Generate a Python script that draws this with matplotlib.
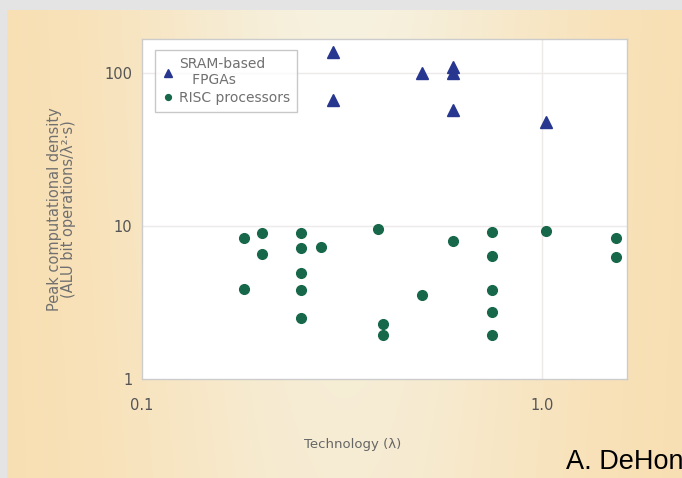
import matplotlib
matplotlib.use("Agg")
import matplotlib.pyplot as plt
import numpy as np

# data
fpga_tech = [0.30, 0.30, 0.50, 0.60, 0.60, 0.60, 1.02]
fpga_density = [137, 67, 100, 109, 100, 57, 48]

risc_tech = [0.18, 0.18, 0.20, 0.20,
             0.25, 0.25, 0.25, 0.25, 0.25,
             0.28, 0.39, 0.40, 0.40, 0.50, 0.60,
             0.75, 0.75, 0.75, 0.75, 0.75,
             1.02, 1.53, 1.53]
risc_density = [8.4, 3.9, 9.0, 6.6,
                9.0, 7.2, 4.9, 3.8, 2.5,
                7.3, 9.6, 2.3, 1.95, 3.55, 8.0,
                9.2, 6.4, 3.8, 2.75, 1.95,
                9.3, 8.4, 6.3]

fig = plt.figure(figsize=(6.82, 4.78), dpi=100)
fig.patch.set_facecolor("#e4e4e4")

# warm beige background panel
bg = fig.add_axes([7 / 682, 0, 1 - 7 / 682, 1 - 10 / 478])
xx = np.linspace(0, 1, 300)
yy = np.linspace(0, 1, 200)
X, Y = np.meshgrid(xx, yy)
w = np.exp(-((X - 0.5) / 0.32) ** 2) * (0.75 + 0.25 * Y)
edge = np.array([0.975, 0.87, 0.69])
center = np.array([0.965, 0.945, 0.875])
img = edge[None, None, :] * (1 - w[..., None]) + center[None, None, :] * w[..., None]
bg.imshow(img, aspect="auto", extent=[0, 1, 0, 1], origin="lower")
bg.axis("off")

ax = fig.add_axes([142 / 682, 1 - 379 / 478, 485 / 682, 340 / 478])
ax.set_facecolor("white")
ax.set_xscale("log")
ax.set_yscale("log")
ax.set_xlim(0.1, 1.63)
ax.set_ylim(1, 167)

ax.plot(fpga_tech, fpga_density, "^", color="#27368f", markersize=8.5,
        linestyle="none", label="SRAM-based\n   FPGAs")
ax.plot(risc_tech, risc_density, "o", color="#17684a", markersize=7,
        linestyle="none", label="RISC processors")

ax.set_xticks([0.1, 1.0])
ax.set_xticklabels(["0.1", "1.0"])
ax.set_yticks([1, 10, 100])
ax.set_yticklabels(["1", "10", "100"])
ax.minorticks_off()
ax.tick_params(length=0, labelsize=10.5, colors="#555555")
ax.tick_params(axis="y", pad=7)
ax.tick_params(axis="x", pad=14)

ax.axhline(10, color="#eeeaea", lw=1.0, zorder=0)
ax.axhline(100, color="#eeeaea", lw=1.0, zorder=0)
ax.axvline(1.0, color="#eeeaea", lw=1.0, zorder=0)

for s in ax.spines.values():
    s.set_color("#cccccc")
    s.set_linewidth(1.0)

ax.set_xlabel("Technology (λ)", fontsize=9.5, color="#666666")
ax.xaxis.set_label_coords(0.435, -0.174)
ax.set_ylabel("Peak computational density\n(ALU bit operations/λ²·s)",
              fontsize=10.5, color="#707070", linespacing=0.95)
ax.yaxis.set_label_coords(-0.136, 0.5)

leg = ax.legend(loc="upper left", bbox_to_anchor=(0.027, 0.968), fontsize=10,
                frameon=True, fancybox=False, handletextpad=0.4,
                handlelength=0.8, borderpad=0.5, labelspacing=0.3,
                markerscale=0.6, borderaxespad=0)
leg.get_frame().set_edgecolor("#bbbbbb")
leg.get_frame().set_linewidth(1.0)
for t in leg.get_texts():
    t.set_color("#707070")

fig.text(566 / 682, 1 - 462 / 478, "A. DeHon", fontsize=19.5,
         family="Liberation Sans", color="black", va="center", ha="left")

fig.savefig("out.png", dpi=100)
